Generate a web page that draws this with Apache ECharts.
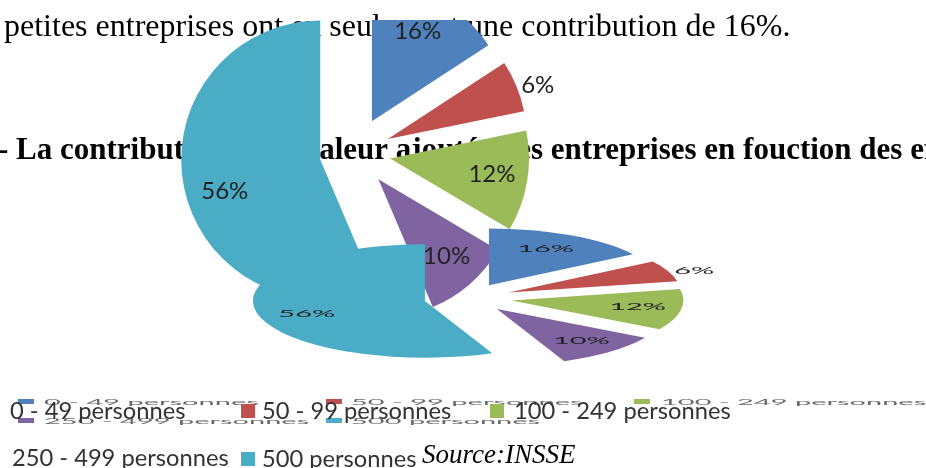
<!DOCTYPE html>
<html>
<head>
<meta charset="utf-8">
<style>
html, body { margin: 0; padding: 0; background: #fff; }
#main { width: 926px; height: 468px; }
</style>
<script src="https://cdn.jsdelivr.net/npm/echarts@6/dist/echarts.min.js"></script>
</head>
<body>
<div id="main"></div>
<script>
var categories = ['0 - 49 personnes', '50 - 99 personnes', '100 - 249 personnes', '250 - 499 personnes', '500 personnes'];
var shares = [15.8, 6, 11.7, 10.1, 56.4];
var colors = ['#4F81BD', '#C0504D', '#9BBB59', '#8064A2', '#4BACC6'];

// where the percent labels sit, as a fraction of radius and an angle nudge (degrees)
var labelDist = [0.74, 1.15, 0.74, 0.73, 0.72];
var labelNudge = [-2, 2, -2, -1, -6];

var total = shares.reduce(function (a, b) { return a + b; }, 0);

function pieItem(pie) {
	return function (params) {
		var i = params.dataIndex;
		var before = 0;
		for (var k = 0; k < i; k++) before += shares[k];
		var a0 = before / total * Math.PI * 2;
		var a1 = (before + shares[i]) / total * Math.PI * 2;
		var mid = (a0 + a1) / 2;
		var ox = Math.sin(mid) * pie.offset;
		var oy = -Math.cos(mid) * pie.offset;
		var la = mid + labelNudge[i] * Math.PI / 180;
		var ld = pie.r * labelDist[i];
		var clip = pie.clipTop === undefined ? undefined : {
			type: 'rect',
			shape: { x: -2000, y: pie.clipTop - pie.cy, width: 4000, height: 2000 }
		};
		return {
			type: 'group',
			children: [{
				type: 'sector',
				x: pie.cx,
				y: pie.cy,
				scaleY: pie.squash,
				shape: {
					cx: ox, cy: oy, r0: 0, r: pie.r,
					startAngle: a0 - Math.PI / 2, endAngle: a1 - Math.PI / 2, clockwise: true
				},
				style: { fill: colors[i] },
				clipPath: clip
			}, {
				type: 'text',
				x: pie.cx + ox + Math.sin(la) * ld,
				y: pie.cy + (oy - Math.cos(la) * ld) * pie.squash + pie.labelDrop,
				scaleY: pie.squash,
				style: {
					text: Math.round(shares[i]) + '%',
					font: pie.font + 'px Lato',
					fill: '#222',
					align: 'center',
					verticalAlign: 'middle'
				},
				z2: 5
			}]
		};
	};
}

function docText(text, x, y, font) {
	return { type: 'text', z: -1, x: x, y: y, style: { text: text, font: font, fill: '#000', verticalAlign: 'middle' } };
}

function flatLegend(i, swatchX, textX, y) {
	return [{
		type: 'rect', z: 10, shape: { x: swatchX, y: y - 3, width: 16, height: 5 }, style: { fill: colors[i] }
	}, {
		type: 'text', z: 10, x: textX, y: y, scaleY: 0.28,
		style: { text: categories[i], font: '29px Lato', fill: '#666', verticalAlign: 'middle' }
	}];
}

function tallLegend(i, swatchX, textX, y) {
	var out = [{
		type: 'text', z: 11, x: textX, y: y,
		style: { text: categories[i], font: '23.7px Lato', fill: '#333', verticalAlign: 'middle' }
	}];
	if (swatchX !== null) {
		out.push({ type: 'rect', z: 11, shape: { x: swatchX, y: y - 7, width: 14, height: 14 }, style: { fill: colors[i] } });
	}
	return out;
}

var graphics = [
	docText('petites entreprises ont en seulement une contribution de 16%.', 4, 28, '32px "Liberation Serif"'),
	docText('- La contribution de la valeur ajoutée des entreprises en fouction des effectifs', -2, 151, 'bold 31px "Liberation Serif"'),
	{ type: 'text', z: 12, x: 422, y: 456, style: { text: 'Source:INSSE', font: 'italic 27px "Liberation Serif"', fill: '#000', verticalAlign: 'middle' } }
].concat(
	flatLegend(0, 18, 44, 402), flatLegend(1, 326, 351, 402), flatLegend(2, 634, 661, 402),
	flatLegend(3, 18, 44, 421), flatLegend(4, 326, 351, 421),
	tallLegend(0, null, 10, 411), tallLegend(1, 241, 262, 411), tallLegend(2, 490, 514, 411),
	tallLegend(3, null, 12, 458), tallLegend(4, 241, 262, 459)
);

var chart = echarts.init(document.getElementById('main'), null, { renderer: 'canvas' });
chart.setOption({
	animation: false,
	backgroundColor: '#fff',
	graphic: { elements: graphics },
	series: [{
		type: 'custom',
		coordinateSystem: 'none',
		silent: true,
		z: 2,
		data: shares,
		renderItem: pieItem({ cx: 355, cy: 152.5, r: 139, offset: 35.5, squash: 1, font: 24, clipTop: 20, labelDrop: 2 })
	}, {
		type: 'custom',
		coordinateSystem: 'none',
		silent: true,
		z: 3,
		data: shares,
		renderItem: pieItem({ cx: 468, cy: 298, r: 172, offset: 44, squash: 0.33, font: 29, labelDrop: 1 })
	}]
});
</script>
</body>
</html>
